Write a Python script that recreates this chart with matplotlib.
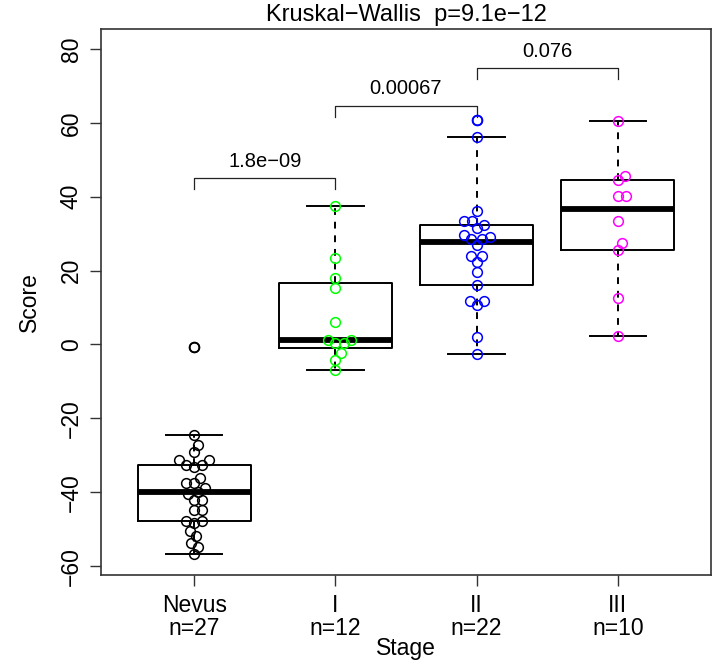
import numpy as np
import matplotlib
matplotlib.use("Agg")
import matplotlib.pyplot as plt

plt.rcParams['font.family'] = ['Liberation Sans', 'DejaVu Sans']

# ---------------- data ----------------
groups = ["Nevus", "I", "II", "III"]
counts = [27, 12, 22, 10]
nevus = [-0.7, -24.5, -27.2, -29.2, -31.4, -31.4, -32.6, -32.6, -33.3, -36.1,
         -37.6, -37.6, -38.8, -40.0, -40.6, -42.0, -42.0, -44.8, -44.8, -47.7,
         -47.7, -48.4, -50.4, -51.9, -53.7, -54.8, -56.8]
stage_I = [37.6, 23.3, 17.9, 15.4, 6.2, 1.3, 1.3, 0.3, 0.3, -2.4, -4.1, -7.0]
stage_II = [60.8, 56.3, 36.1, 33.5, 33.5, 32.3, 31.6, 29.6, 29.2, 28.6, 28.6,
            26.9, 24.0, 24.0, 22.3, 19.5, 16.1, 11.9, 11.9, 10.7, 1.9, -2.6]
stage_III = [60.4, 45.7, 44.5, 40.1, 40.1, 33.4, 27.4, 25.5, 12.7, 2.3]
series = [nevus, stage_I, stage_II, stage_III]
colors = ["black", "#00FF00", "#0000FF", "#FF00FF"]

comparisons = [(1, 2, "1.8e\u221209"), (2, 3, "0.00067"), (3, 4, "0.076")]
bracket_y = [45.0, 64.6, 74.8]
title_text = "Kruskal\u2212Wallis  p=9.1e\u221212"
yticks = [-60, -40, -20, 0, 20, 40, 60, 80]


def fivenum(v):
    x = np.sort(np.asarray(v, float))
    n = len(x)
    n4 = np.floor((n + 3) / 2) / 2
    d = np.array([1, n4, (n + 1) / 2, n + 1 - n4, n]) - 1
    return 0.5 * (x[np.floor(d).astype(int)] + x[np.ceil(d).astype(int)])


def box_stats(v):
    f = fivenum(v)
    iqr = f[3] - f[1]
    x = np.asarray(v, float)
    inside = x[(x >= f[1] - 1.5 * iqr) & (x <= f[3] + 1.5 * iqr)]
    out = x[(x < f[1] - 1.5 * iqr) | (x > f[3] + 1.5 * iqr)]
    return dict(med=f[2], q1=f[1], q3=f[3], whislo=inside.min(),
                whishi=inside.max(), fliers=out)


fig = plt.figure(figsize=(7.15, 6.68), dpi=100)
ax = fig.add_axes([101 / 715, 1 - 575 / 668, 610 / 715, 546 / 668])
ax.set_xlim(0.34, 4.66)
ax.set_ylim(-62.4, 85.4)

positions = np.arange(1, len(groups) + 1)
stats = [box_stats(s) for s in series]
ax.bxp(stats, positions=positions, widths=0.8, capwidths=0.4, showfliers=False,
       boxprops=dict(color='black', linewidth=1.4),
       whiskerprops=dict(color='black', linewidth=1.4, linestyle=(0, (3.5, 3.5))),
       capprops=dict(color='black', linewidth=1.4),
       medianprops=dict(color='black', linewidth=4.2, solid_capstyle='butt'),
       zorder=2)

# beeswarm (swarm method) in pixel space
fig.canvas.draw()
trans = ax.transData
dsize = 8.3  # px


def swarm(y_vals, pos):
    pts = np.column_stack([np.full(len(y_vals), pos), y_vals])
    pix = trans.transform(pts)
    ypx = pix[:, 1]
    order = np.argsort(ypx, kind='stable')
    xoff = np.zeros(len(y_vals))
    placed = []
    for i in order:
        cands = [0.0]
        for j in placed:
            dy = ypx[i] - ypx[j]
            if abs(dy) < dsize:
                off = np.sqrt(dsize ** 2 - dy ** 2)
                cands += [xoff[j] + off, xoff[j] - off]
        best = None
        for c in sorted(cands, key=lambda c: (abs(c), -c)):
            ok = True
            for j in placed:
                if (c - xoff[j]) ** 2 + (ypx[i] - ypx[j]) ** 2 < dsize ** 2 - 1e-6:
                    ok = False
                    break
            if ok:
                best = c
                break
        xoff[i] = best
        placed.append(i)
    xpx = pix[:, 0] + xoff
    back = trans.inverted().transform(np.column_stack([xpx, ypx]))
    return back[:, 0], np.asarray(y_vals)


for k, (s, c) in enumerate(zip(series, colors)):
    st = stats[k]
    if len(st['fliers']):
        ax.plot(np.full(len(st['fliers']), positions[k]), st['fliers'], 'o',
                ms=7, mfc='none', mec=c, mew=1.3, zorder=3)
    xs, ys = swarm(s, positions[k])
    ax.plot(xs, ys, 'o', ms=7, mfc='none', mec=c, mew=1.1, zorder=4)

# comparison brackets
for (a, b, lab), yb in zip(comparisons, bracket_y):
    ax.plot([a, a, b, b], [yb - 3.0, yb, yb, yb - 3.0], color='#222222', lw=0.9)
    ax.text((a + b) / 2, yb + 2.0, lab, ha='center', va='bottom', fontsize=14.5)

ax.text(2.5, 1.0 + 14 / 546, title_text, transform=ax.get_xaxis_transform(),
        ha='center', va='center', fontsize=17)

ax.set_xticks(positions)
ax.set_xticklabels([f"{g}\nn={n}" for g, n in zip(groups, counts)],
                   fontsize=16.5, linespacing=0.95)
ax.set_yticks(yticks)
ax.set_yticklabels([str(t).replace('-', '\u2212') for t in yticks],
                   fontsize=16.5, rotation=90, va='center')
ax.tick_params(axis='both', direction='out', length=8, width=1, color='#333333')
ax.tick_params(axis='x', pad=6)
ax.tick_params(axis='y', pad=5)
for sp in ax.spines.values():
    sp.set_linewidth(1.2)
    sp.set_color('#333333')

ax.set_xlabel("Stage", fontsize=16.5, labelpad=-2)
ax.set_ylabel("Score", fontsize=16.5, labelpad=14)

fig.savefig("out.png", dpi=100)
